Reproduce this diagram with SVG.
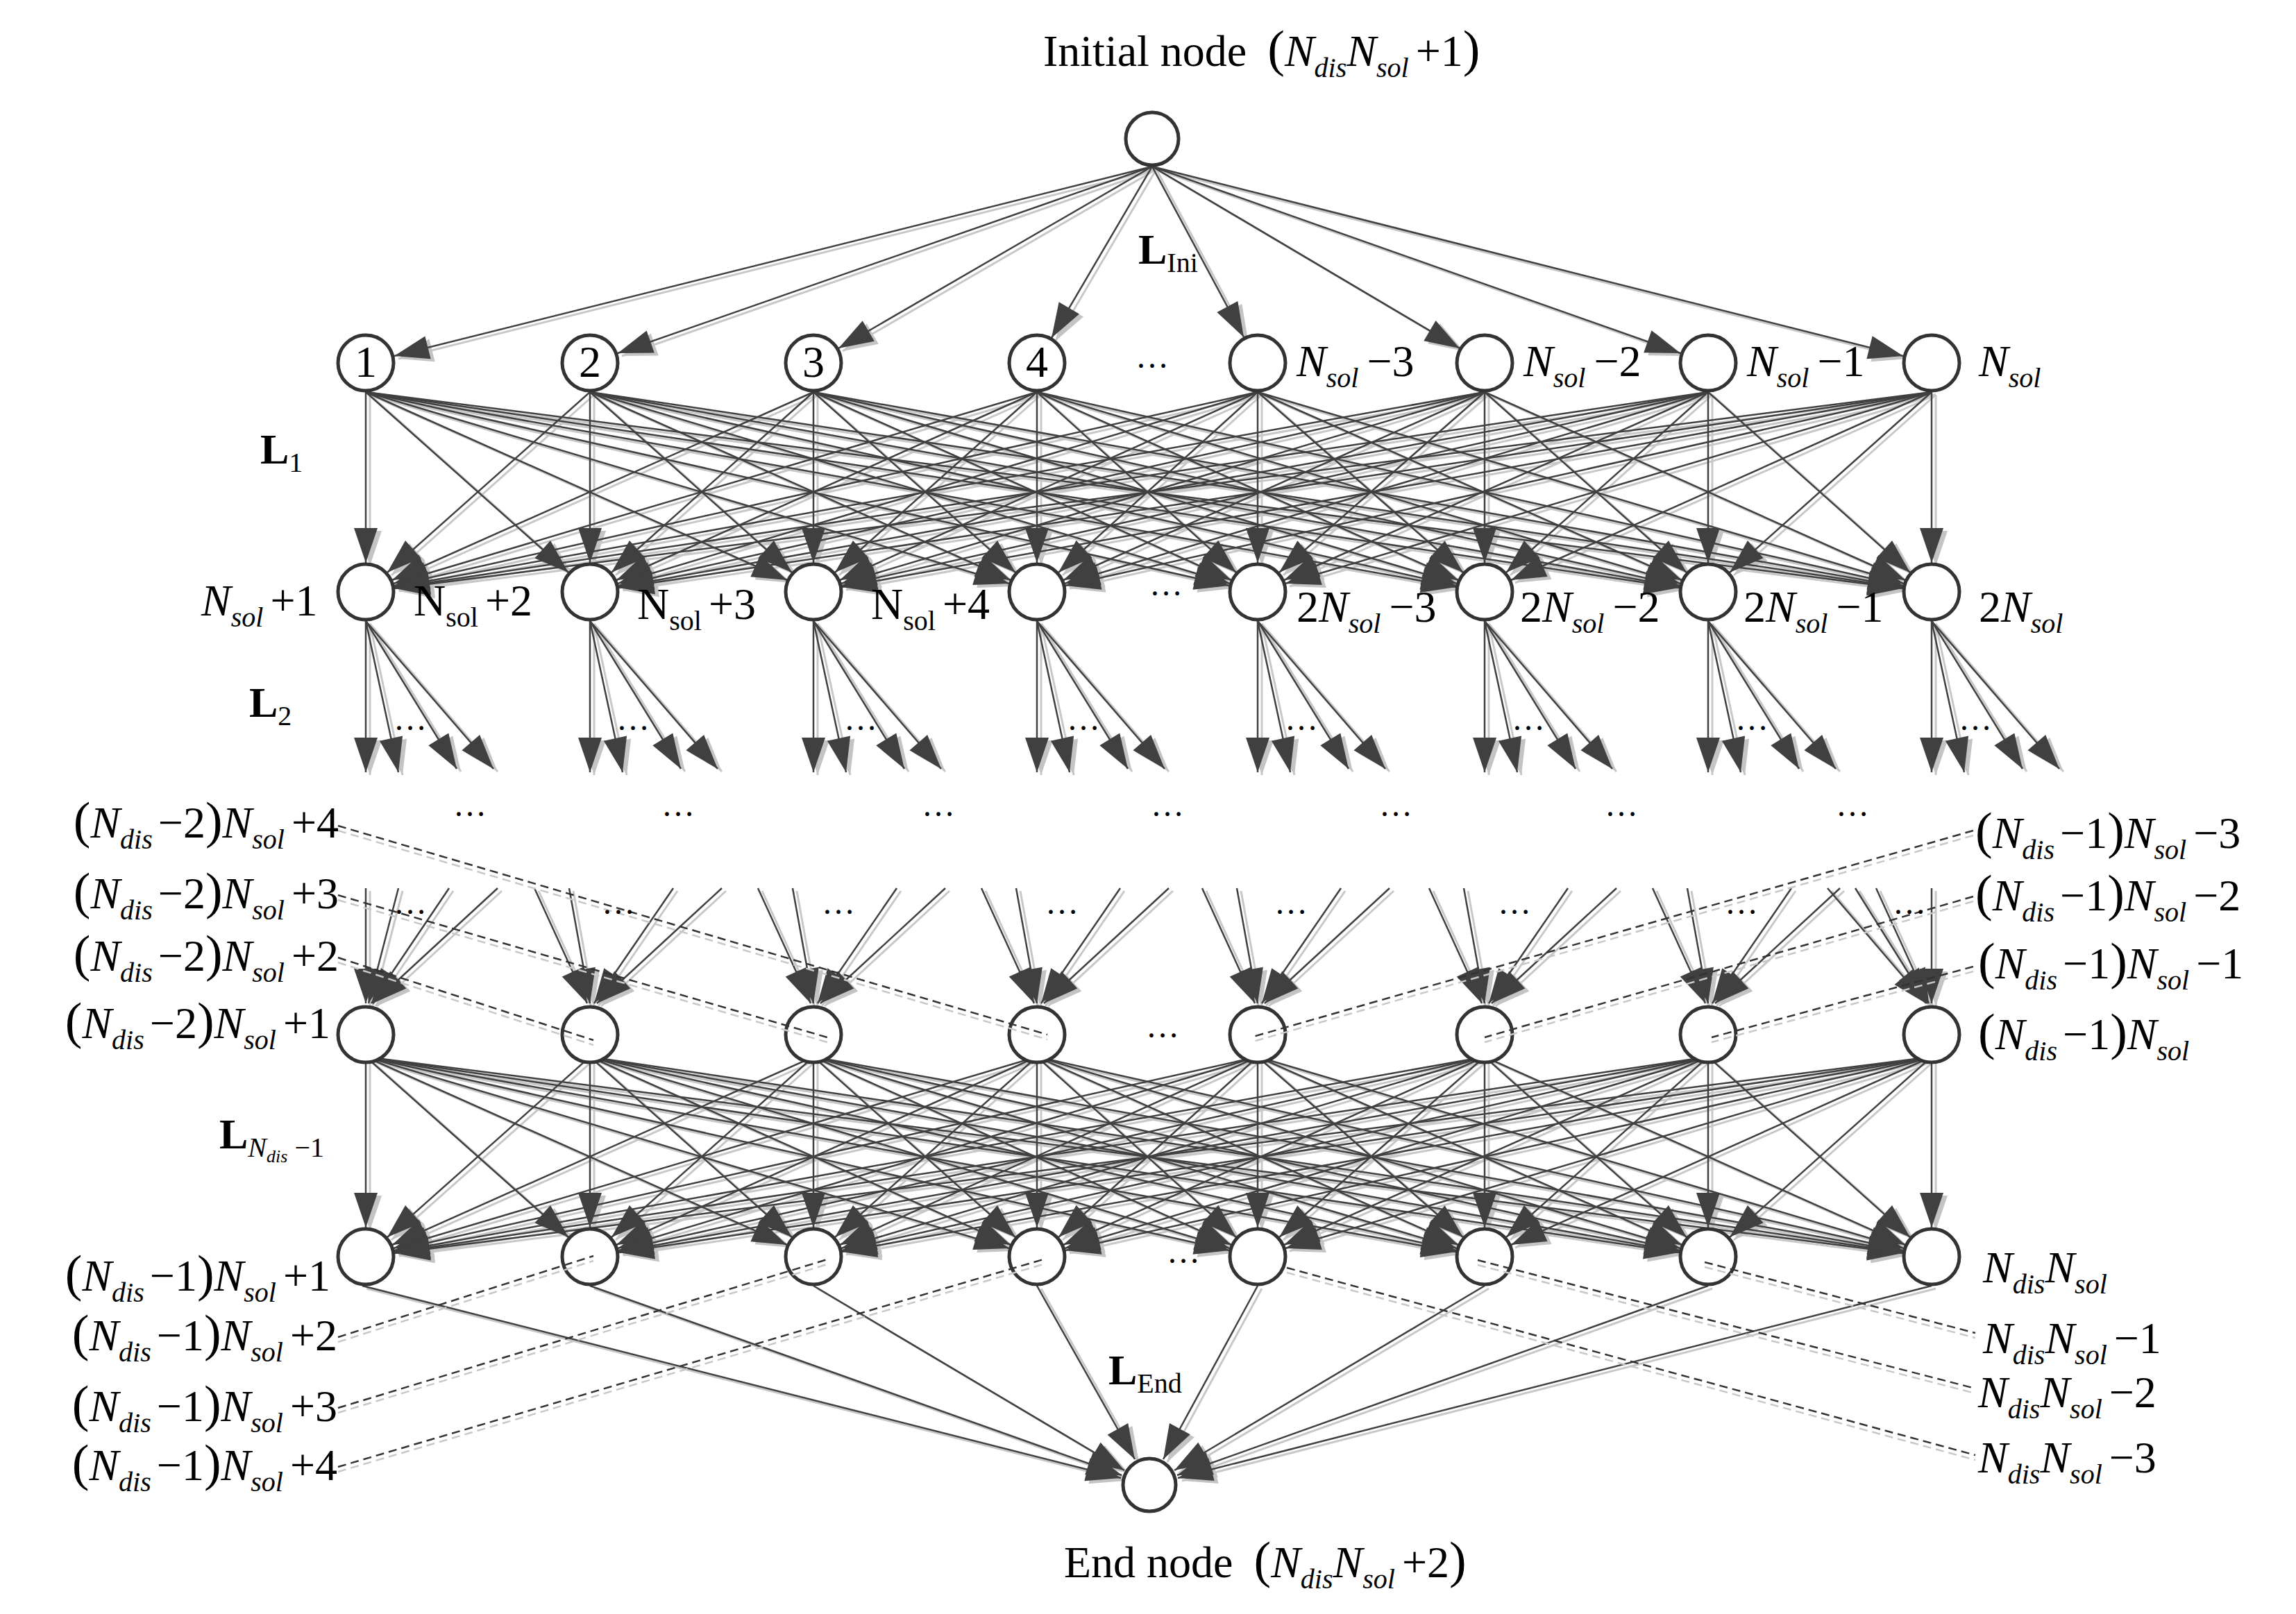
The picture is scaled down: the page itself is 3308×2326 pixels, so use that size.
<svg xmlns="http://www.w3.org/2000/svg" width="3308" height="2326" viewBox="0 0 3308 2326">
<style>
.t{font-family:"Liberation Serif","Times New Roman",serif;font-size:64px;fill:#000}
.i{font-style:italic}
.sb{font-size:40px;font-style:italic}
.sr{font-size:40px;font-style:normal}
.p{font-size:74px}
.b{font-weight:bold;font-size:62px}
.d{stroke:#404040;stroke-width:2.5;fill:none}
.s{stroke:#c8c8c8;stroke-width:3;fill:none}
.nd{fill:#fff;stroke:#333;stroke-width:5}
.dash{stroke:#333;stroke-width:2.5;stroke-dasharray:12 7;fill:none}
.dashs{stroke:#c8c8c8;stroke-width:2.5;stroke-dasharray:12 7;fill:none}
.dot{font-family:"Liberation Serif",serif;font-size:48px;fill:#000}
</style>
<defs>
<marker id="aD" markerUnits="userSpaceOnUse" markerWidth="54" markerHeight="36" refX="50" refY="17" orient="auto" overflow="visible"><path d="M0,0 L50,17 L0,34 Z" fill="#404040"/></marker>
<marker id="aL" markerUnits="userSpaceOnUse" markerWidth="54" markerHeight="36" refX="50" refY="17" orient="auto" overflow="visible"><path d="M0,0 L50,17 L0,34 Z" fill="#c4c4c4"/></marker>
<g id="ini">
<line x1="1660" y1="240" x2="568" y2="513"/><line x1="1660" y1="240" x2="890" y2="509"/><line x1="1660" y1="240" x2="1208" y2="502"/><line x1="1660" y1="240" x2="1515" y2="487"/>
<line x1="1660" y1="240" x2="1792" y2="486"/><line x1="1660" y1="240" x2="2103" y2="502"/><line x1="1660" y1="240" x2="2421" y2="509"/><line x1="1660" y1="240" x2="2742" y2="513"/>
</g>
<g id="mesh">
<line x1="527" y1="565" x2="527" y2="811"/><line x1="527" y1="565" x2="819" y2="825"/><line x1="527" y1="565" x2="1134" y2="836"/><line x1="527" y1="565" x2="1454" y2="841"/><line x1="527" y1="565" x2="1771" y2="844"/><line x1="527" y1="565" x2="2098" y2="846"/><line x1="527" y1="565" x2="2419" y2="847"/><line x1="527" y1="565" x2="2741" y2="848"/>
<line x1="850" y1="565" x2="558" y2="825"/><line x1="850" y1="565" x2="850" y2="811"/><line x1="850" y1="565" x2="1141" y2="825"/><line x1="850" y1="565" x2="1456" y2="836"/><line x1="850" y1="565" x2="1772" y2="841"/><line x1="850" y1="565" x2="2098" y2="844"/><line x1="850" y1="565" x2="2420" y2="846"/><line x1="850" y1="565" x2="2741" y2="847"/>
<line x1="1172" y1="565" x2="565" y2="836"/><line x1="1172" y1="565" x2="881" y2="825"/><line x1="1172" y1="565" x2="1172" y2="811"/><line x1="1172" y1="565" x2="1463" y2="825"/><line x1="1172" y1="565" x2="1774" y2="836"/><line x1="1172" y1="565" x2="2099" y2="841"/><line x1="1172" y1="565" x2="2420" y2="844"/><line x1="1172" y1="565" x2="2742" y2="846"/>
<line x1="1494" y1="565" x2="567" y2="841"/><line x1="1494" y1="565" x2="888" y2="836"/><line x1="1494" y1="565" x2="1203" y2="825"/><line x1="1494" y1="565" x2="1494" y2="811"/><line x1="1494" y1="565" x2="1781" y2="825"/><line x1="1494" y1="565" x2="2101" y2="836"/><line x1="1494" y1="565" x2="2421" y2="841"/><line x1="1494" y1="565" x2="2742" y2="844"/>
<line x1="1812" y1="565" x2="568" y2="844"/><line x1="1812" y1="565" x2="890" y2="841"/><line x1="1812" y1="565" x2="1210" y2="836"/><line x1="1812" y1="565" x2="1525" y2="825"/><line x1="1812" y1="565" x2="1812" y2="811"/><line x1="1812" y1="565" x2="2108" y2="825"/><line x1="1812" y1="565" x2="2423" y2="836"/><line x1="1812" y1="565" x2="2743" y2="841"/>
<line x1="2139" y1="565" x2="568" y2="846"/><line x1="2139" y1="565" x2="891" y2="844"/><line x1="2139" y1="565" x2="1212" y2="841"/><line x1="2139" y1="565" x2="1532" y2="836"/><line x1="2139" y1="565" x2="1843" y2="825"/><line x1="2139" y1="565" x2="2139" y2="811"/><line x1="2139" y1="565" x2="2430" y2="825"/><line x1="2139" y1="565" x2="2745" y2="836"/>
<line x1="2461" y1="565" x2="569" y2="847"/><line x1="2461" y1="565" x2="891" y2="846"/><line x1="2461" y1="565" x2="1213" y2="844"/><line x1="2461" y1="565" x2="1534" y2="841"/><line x1="2461" y1="565" x2="1850" y2="836"/><line x1="2461" y1="565" x2="2170" y2="825"/><line x1="2461" y1="565" x2="2461" y2="811"/><line x1="2461" y1="565" x2="2752" y2="825"/>
<line x1="2783" y1="565" x2="569" y2="848"/><line x1="2783" y1="565" x2="892" y2="847"/><line x1="2783" y1="565" x2="1213" y2="846"/><line x1="2783" y1="565" x2="1535" y2="844"/><line x1="2783" y1="565" x2="1852" y2="841"/><line x1="2783" y1="565" x2="2177" y2="836"/><line x1="2783" y1="565" x2="2492" y2="825"/><line x1="2783" y1="565" x2="2783" y2="811"/>
</g>
<g id="fo">
<line x1="0" y1="42" x2="0" y2="260"/><line x1="0" y1="42" x2="47" y2="260"/><line x1="0" y1="42" x2="131" y2="255"/><line x1="0" y1="42" x2="184" y2="255"/>
</g>
<g id="fiA"><line x1="0" y1="-211" x2="0" y2="-45"/><line x1="47" y1="-211" x2="4" y2="-45"/><line x1="120" y1="-211" x2="8" y2="-45"/><line x1="190" y1="-211" x2="10" y2="-45"/></g>
<g id="fiB"><line x1="-80" y1="-211" x2="-4" y2="-45"/><line x1="-30" y1="-211" x2="0" y2="-45"/><line x1="120" y1="-211" x2="6" y2="-45"/><line x1="190" y1="-211" x2="10" y2="-45"/></g>
<g id="fiC"><line x1="-150" y1="-211" x2="-8" y2="-45"/><line x1="-110" y1="-211" x2="-6" y2="-45"/><line x1="-80" y1="-211" x2="-4" y2="-45"/><line x1="0" y1="-211" x2="0" y2="-45"/></g>
<g id="end">
<line x1="522" y1="1853" x2="1615" y2="2130"/><line x1="850" y1="1853" x2="1616" y2="2126"/><line x1="1172" y1="1853" x2="1620" y2="2119"/><line x1="1494" y1="1853" x2="1635" y2="2103"/>
<line x1="1812" y1="1853" x2="1676" y2="2103"/><line x1="2139" y1="1853" x2="1692" y2="2119"/><line x1="2461" y1="1853" x2="1696" y2="2126"/><line x1="2783" y1="1853" x2="1697" y2="2130"/>
</g>
</defs>

<g id="connectors">
<use href="#ini" class="s" marker-end="url(#aL)" transform="translate(6,4)"/>
<use href="#ini" class="d" marker-end="url(#aD)"/>
<use href="#mesh" class="s" marker-end="url(#aL)" transform="translate(6,4)"/>
<use href="#mesh" class="d" marker-end="url(#aD)"/>
<use href="#mesh" class="s" marker-end="url(#aL)" transform="translate(6,962)"/>
<use href="#mesh" class="d" marker-end="url(#aD)" transform="translate(0,958)"/>
<g class="s" marker-end="url(#aL)">
<use href="#fo" transform="translate(533,857)"/><use href="#fo" transform="translate(856,857)"/><use href="#fo" transform="translate(1178,857)"/><use href="#fo" transform="translate(1500,857)"/><use href="#fo" transform="translate(1818,857)"/><use href="#fo" transform="translate(2145,857)"/><use href="#fo" transform="translate(2467,857)"/><use href="#fo" transform="translate(2789,857)"/>
<use href="#fiA" transform="translate(533,1495)"/><use href="#fiB" transform="translate(856,1495)"/><use href="#fiB" transform="translate(1178,1495)"/><use href="#fiB" transform="translate(1500,1495)"/><use href="#fiB" transform="translate(1818,1495)"/><use href="#fiB" transform="translate(2145,1495)"/><use href="#fiB" transform="translate(2467,1495)"/><use href="#fiC" transform="translate(2789,1495)"/>
<use href="#end" transform="translate(6,4)"/>
</g>
<g class="d" marker-end="url(#aD)">
<use href="#fo" transform="translate(527,853)"/><use href="#fo" transform="translate(850,853)"/><use href="#fo" transform="translate(1172,853)"/><use href="#fo" transform="translate(1494,853)"/><use href="#fo" transform="translate(1812,853)"/><use href="#fo" transform="translate(2139,853)"/><use href="#fo" transform="translate(2461,853)"/><use href="#fo" transform="translate(2783,853)"/>
<use href="#fiA" transform="translate(527,1491)"/><use href="#fiB" transform="translate(850,1491)"/><use href="#fiB" transform="translate(1172,1491)"/><use href="#fiB" transform="translate(1494,1491)"/><use href="#fiB" transform="translate(1812,1491)"/><use href="#fiB" transform="translate(2139,1491)"/><use href="#fiB" transform="translate(2461,1491)"/><use href="#fiC" transform="translate(2783,1491)"/>
<use href="#end"/>
</g>
</g>

<g id="n-init"><circle class="nd" cx="1660" cy="200" r="38"/></g>
<g id="n-1"><circle class="nd" cx="527" cy="523" r="40"/><text class="t" x="527" y="543" text-anchor="middle" font-size="56">1</text></g>
<g id="n-2"><circle class="nd" cx="850" cy="523" r="40"/><text class="t" x="850" y="543" text-anchor="middle" font-size="56">2</text></g>
<g id="n-3"><circle class="nd" cx="1172" cy="523" r="40"/><text class="t" x="1172" y="543" text-anchor="middle" font-size="56">3</text></g>
<g id="n-4"><circle class="nd" cx="1494" cy="523" r="40"/><text class="t" x="1494" y="543" text-anchor="middle" font-size="56">4</text></g>
<g id="n-5"><circle class="nd" cx="1812" cy="523" r="40"/></g>
<g id="n-6"><circle class="nd" cx="2139" cy="523" r="40"/></g>
<g id="n-7"><circle class="nd" cx="2461" cy="523" r="40"/></g>
<g id="n-8"><circle class="nd" cx="2783" cy="523" r="40"/></g>
<g id="n-r2"><circle class="nd" cx="527" cy="853" r="40"/><circle class="nd" cx="850" cy="853" r="40"/><circle class="nd" cx="1172" cy="853" r="40"/><circle class="nd" cx="1494" cy="853" r="40"/><circle class="nd" cx="1812" cy="853" r="40"/><circle class="nd" cx="2139" cy="853" r="40"/><circle class="nd" cx="2461" cy="853" r="40"/><circle class="nd" cx="2783" cy="853" r="40"/></g>
<g id="n-r3"><circle class="nd" cx="527" cy="1491" r="40"/><circle class="nd" cx="850" cy="1491" r="40"/><circle class="nd" cx="1172" cy="1491" r="40"/><circle class="nd" cx="1494" cy="1491" r="40"/><circle class="nd" cx="1812" cy="1491" r="40"/><circle class="nd" cx="2139" cy="1491" r="40"/><circle class="nd" cx="2461" cy="1491" r="40"/><circle class="nd" cx="2783" cy="1491" r="40"/></g>
<g id="n-r4"><circle class="nd" cx="527" cy="1811" r="40"/><circle class="nd" cx="850" cy="1811" r="40"/><circle class="nd" cx="1172" cy="1811" r="40"/><circle class="nd" cx="1494" cy="1811" r="40"/><circle class="nd" cx="1812" cy="1811" r="40"/><circle class="nd" cx="2139" cy="1811" r="40"/><circle class="nd" cx="2461" cy="1811" r="40"/><circle class="nd" cx="2783" cy="1811" r="40"/></g>
<g id="n-end"><circle class="nd" cx="1656" cy="2140" r="38"/></g>

<g id="leaders">
<g class="dashs" transform="translate(0,7)">
<line x1="487" y1="1190" x2="1509" y2="1491"/><line x1="487" y1="1290" x2="1192" y2="1495"/><line x1="487" y1="1380" x2="855" y2="1499"/>
<line x1="487" y1="1927" x2="855" y2="1810"/><line x1="487" y1="2029" x2="1192" y2="1815"/><line x1="487" y1="2114" x2="1503" y2="1815"/>
<line x1="2843" y1="1197" x2="1802" y2="1495"/><line x1="2843" y1="1292" x2="2139" y2="1495"/><line x1="2843" y1="1393" x2="2466" y2="1495"/>
<line x1="1854" y1="1827" x2="2846" y2="2097"/><line x1="2129" y1="1816" x2="2846" y2="2001"/><line x1="2456" y1="1819" x2="2846" y2="1921"/>
</g>
<g class="dash">
<line x1="487" y1="1190" x2="1509" y2="1491"/><line x1="487" y1="1290" x2="1192" y2="1495"/><line x1="487" y1="1380" x2="855" y2="1499"/>
<line x1="487" y1="1927" x2="855" y2="1810"/><line x1="487" y1="2029" x2="1192" y2="1815"/><line x1="487" y1="2114" x2="1503" y2="1815"/>
<line x1="2843" y1="1197" x2="1802" y2="1495"/><line x1="2843" y1="1292" x2="2139" y2="1495"/><line x1="2843" y1="1393" x2="2466" y2="1495"/>
<line x1="1854" y1="1827" x2="2846" y2="2097"/><line x1="2129" y1="1816" x2="2846" y2="2001"/><line x1="2456" y1="1819" x2="2846" y2="1921"/>
</g>
</g>

<g id="labels" class="t">
<text x="1503" y="95">Initial node <tspan class="p" dx="14">(</tspan><tspan class="i">N</tspan><tspan class="sb" dy="16">dis</tspan><tspan class="i" dy="-16">N</tspan><tspan class="sb" dy="16">sol</tspan><tspan dy="-16" dx="10">+1</tspan><tspan class="p">)</tspan></text>
<text x="1533" y="2273">End node <tspan class="p" dx="14">(</tspan><tspan class="i">N</tspan><tspan class="sb" dy="16">dis</tspan><tspan class="i" dy="-16">N</tspan><tspan class="sb" dy="16">sol</tspan><tspan dy="-16" dx="10">+2</tspan><tspan class="p">)</tspan></text>
<text x="1640" y="380" class="b">L<tspan class="sr" font-weight="normal" dy="12">Ini</tspan></text>
<text x="375" y="668" class="b">L<tspan class="sr" font-weight="normal" dy="12">1</tspan></text>
<text x="359" y="1033" class="b">L<tspan class="sr" font-weight="normal" dy="12">2</tspan></text>
<text x="316" y="1655" class="b">L<tspan class="sb" font-weight="normal" dy="12">N</tspan><tspan font-size="26" font-style="italic" font-weight="normal" dy="8">dis</tspan><tspan class="sr" font-weight="normal" dy="-8"> −1</tspan></text>
<text x="1597" y="1995" class="b">L<tspan class="sr" font-weight="normal" dy="12">End</tspan></text>

<text x="1868" y="542"><tspan class="i">N</tspan><tspan class="sb" dy="16">sol</tspan><tspan dy="-16" dx="12">−3</tspan></text>
<text x="2195" y="542"><tspan class="i">N</tspan><tspan class="sb" dy="16">sol</tspan><tspan dy="-16" dx="12">−2</tspan></text>
<text x="2517" y="542"><tspan class="i">N</tspan><tspan class="sb" dy="16">sol</tspan><tspan dy="-16" dx="12">−1</tspan></text>
<text x="2851" y="542"><tspan class="i">N</tspan><tspan class="sb" dy="16">sol</tspan></text>

<text x="290" y="887"><tspan class="i">N</tspan><tspan class="sb" dy="16">sol</tspan><tspan dy="-16" dx="10">+1</tspan></text>
<text x="596" y="887">N<tspan class="sr" dy="16">sol</tspan><tspan dy="-16" dx="10">+2</tspan></text>
<text x="918" y="892">N<tspan class="sr" dy="16">sol</tspan><tspan dy="-16" dx="10">+3</tspan></text>
<text x="1255" y="892">N<tspan class="sr" dy="16">sol</tspan><tspan dy="-16" dx="10">+4</tspan></text>
<text x="1868" y="896">2<tspan class="i">N</tspan><tspan class="sb" dy="16">sol</tspan><tspan dy="-16" dx="12">−3</tspan></text>
<text x="2190" y="896">2<tspan class="i">N</tspan><tspan class="sb" dy="16">sol</tspan><tspan dy="-16" dx="12">−2</tspan></text>
<text x="2512" y="896">2<tspan class="i">N</tspan><tspan class="sb" dy="16">sol</tspan><tspan dy="-16" dx="12">−1</tspan></text>
<text x="2851" y="896">2<tspan class="i">N</tspan><tspan class="sb" dy="16">sol</tspan></text>

<text x="488" y="1207" text-anchor="end"><tspan class="p">(</tspan><tspan class="i">N</tspan><tspan class="sb" dy="16">dis</tspan><tspan dy="-16" dx="8">−2</tspan><tspan class="p">)</tspan><tspan class="i">N</tspan><tspan class="sb" dy="16">sol</tspan><tspan dy="-16" dx="10">+4</tspan></text>
<text x="488" y="1309" text-anchor="end"><tspan class="p">(</tspan><tspan class="i">N</tspan><tspan class="sb" dy="16">dis</tspan><tspan dy="-16" dx="8">−2</tspan><tspan class="p">)</tspan><tspan class="i">N</tspan><tspan class="sb" dy="16">sol</tspan><tspan dy="-16" dx="10">+3</tspan></text>
<text x="488" y="1399" text-anchor="end"><tspan class="p">(</tspan><tspan class="i">N</tspan><tspan class="sb" dy="16">dis</tspan><tspan dy="-16" dx="8">−2</tspan><tspan class="p">)</tspan><tspan class="i">N</tspan><tspan class="sb" dy="16">sol</tspan><tspan dy="-16" dx="10">+2</tspan></text>
<text x="476" y="1496" text-anchor="end"><tspan class="p">(</tspan><tspan class="i">N</tspan><tspan class="sb" dy="16">dis</tspan><tspan dy="-16" dx="8">−2</tspan><tspan class="p">)</tspan><tspan class="i">N</tspan><tspan class="sb" dy="16">sol</tspan><tspan dy="-16" dx="10">+1</tspan></text>
<text x="476" y="1860" text-anchor="end"><tspan class="p">(</tspan><tspan class="i">N</tspan><tspan class="sb" dy="16">dis</tspan><tspan dy="-16" dx="8">−1</tspan><tspan class="p">)</tspan><tspan class="i">N</tspan><tspan class="sb" dy="16">sol</tspan><tspan dy="-16" dx="10">+1</tspan></text>
<text x="486" y="1946" text-anchor="end"><tspan class="p">(</tspan><tspan class="i">N</tspan><tspan class="sb" dy="16">dis</tspan><tspan dy="-16" dx="8">−1</tspan><tspan class="p">)</tspan><tspan class="i">N</tspan><tspan class="sb" dy="16">sol</tspan><tspan dy="-16" dx="10">+2</tspan></text>
<text x="486" y="2048" text-anchor="end"><tspan class="p">(</tspan><tspan class="i">N</tspan><tspan class="sb" dy="16">dis</tspan><tspan dy="-16" dx="8">−1</tspan><tspan class="p">)</tspan><tspan class="i">N</tspan><tspan class="sb" dy="16">sol</tspan><tspan dy="-16" dx="10">+3</tspan></text>
<text x="486" y="2133" text-anchor="end"><tspan class="p">(</tspan><tspan class="i">N</tspan><tspan class="sb" dy="16">dis</tspan><tspan dy="-16" dx="8">−1</tspan><tspan class="p">)</tspan><tspan class="i">N</tspan><tspan class="sb" dy="16">sol</tspan><tspan dy="-16" dx="10">+4</tspan></text>

<text x="2846" y="1222"><tspan class="p">(</tspan><tspan class="i">N</tspan><tspan class="sb" dy="16">dis</tspan><tspan dy="-16" dx="8">−1</tspan><tspan class="p">)</tspan><tspan class="i">N</tspan><tspan class="sb" dy="16">sol</tspan><tspan dy="-16" dx="10">−3</tspan></text>
<text x="2846" y="1312"><tspan class="p">(</tspan><tspan class="i">N</tspan><tspan class="sb" dy="16">dis</tspan><tspan dy="-16" dx="8">−1</tspan><tspan class="p">)</tspan><tspan class="i">N</tspan><tspan class="sb" dy="16">sol</tspan><tspan dy="-16" dx="10">−2</tspan></text>
<text x="2850" y="1410"><tspan class="p">(</tspan><tspan class="i">N</tspan><tspan class="sb" dy="16">dis</tspan><tspan dy="-16" dx="8">−1</tspan><tspan class="p">)</tspan><tspan class="i">N</tspan><tspan class="sb" dy="16">sol</tspan><tspan dy="-16" dx="10">−1</tspan></text>
<text x="2850" y="1512"><tspan class="p">(</tspan><tspan class="i">N</tspan><tspan class="sb" dy="16">dis</tspan><tspan dy="-16" dx="8">−1</tspan><tspan class="p">)</tspan><tspan class="i">N</tspan><tspan class="sb" dy="16">sol</tspan></text>
<text x="2857" y="1848"><tspan class="i">N</tspan><tspan class="sb" dy="16">dis</tspan><tspan class="i" dy="-16">N</tspan><tspan class="sb" dy="16">sol</tspan></text>
<text x="2857" y="1950"><tspan class="i">N</tspan><tspan class="sb" dy="16">dis</tspan><tspan class="i" dy="-16">N</tspan><tspan class="sb" dy="16">sol</tspan><tspan dy="-16" dx="10">−1</tspan></text>
<text x="2850" y="2028"><tspan class="i">N</tspan><tspan class="sb" dy="16">dis</tspan><tspan class="i" dy="-16">N</tspan><tspan class="sb" dy="16">sol</tspan><tspan dy="-16" dx="10">−2</tspan></text>
<text x="2850" y="2122"><tspan class="i">N</tspan><tspan class="sb" dy="16">dis</tspan><tspan class="i" dy="-16">N</tspan><tspan class="sb" dy="16">sol</tspan><tspan dy="-16" dx="10">−3</tspan></text>
</g>

<g id="ellipses" class="dot">
<text x="1660" y="530" text-anchor="middle">…</text>
<text x="1680" y="858" text-anchor="middle">…</text>
<text x="1675" y="1495" text-anchor="middle">…</text>
<text x="1705" y="1820" text-anchor="middle">…</text>
<text x="591" y="1052" text-anchor="middle">…</text><text x="912" y="1052" text-anchor="middle">…</text><text x="1240" y="1052" text-anchor="middle">…</text><text x="1561" y="1052" text-anchor="middle">…</text><text x="1875" y="1052" text-anchor="middle">…</text><text x="2202" y="1052" text-anchor="middle">…</text><text x="2524" y="1052" text-anchor="middle">…</text><text x="2846" y="1052" text-anchor="middle">…</text>
<text x="677" y="1176" text-anchor="middle">…</text><text x="977" y="1176" text-anchor="middle">…</text><text x="1352" y="1176" text-anchor="middle">…</text><text x="1682" y="1176" text-anchor="middle">…</text><text x="2011" y="1176" text-anchor="middle">…</text><text x="2336" y="1176" text-anchor="middle">…</text><text x="2669" y="1176" text-anchor="middle">…</text>
<text x="591" y="1317" text-anchor="middle">…</text><text x="891" y="1317" text-anchor="middle">…</text><text x="1208" y="1317" text-anchor="middle">…</text><text x="1530" y="1317" text-anchor="middle">…</text><text x="1860" y="1317" text-anchor="middle">…</text><text x="2182" y="1317" text-anchor="middle">…</text><text x="2509" y="1317" text-anchor="middle">…</text><text x="2751" y="1317" text-anchor="middle">…</text>
</g>
</svg>
